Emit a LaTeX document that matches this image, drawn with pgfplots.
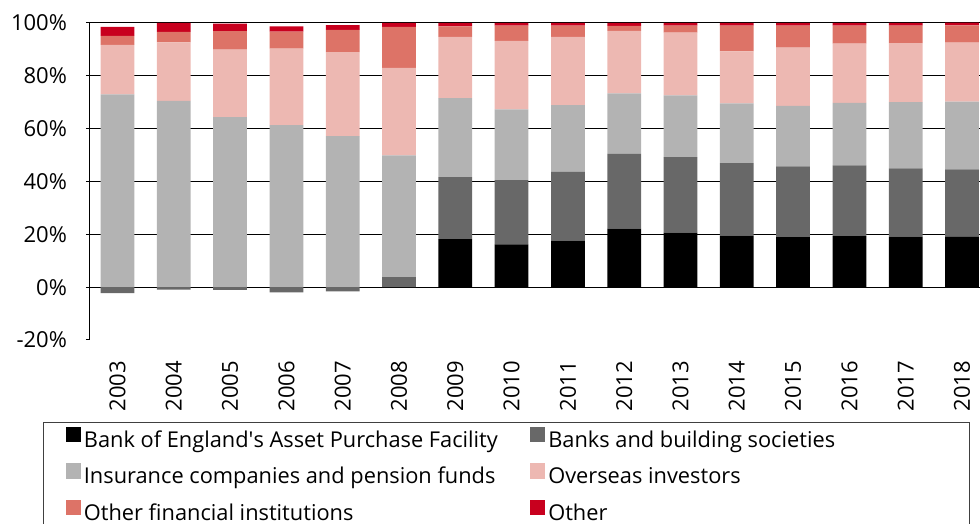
\documentclass[border=0pt]{standalone}
\usepackage{fontspec}
\setmainfont{Open Sans}
\usepackage{pgfplots}
\pgfplotsset{compat=1.18}
\usepackage{pgfplotstable}

\definecolor{boe}{RGB}{0,0,0}
\definecolor{banks}{RGB}{104,104,104}
\definecolor{insur}{RGB}{179,179,179}
\definecolor{overs}{RGB}{237,184,178}
\definecolor{ofi}{RGB}{221,115,103}
\definecolor{other}{RGB}{200,0,30}

% negb = negative part of banks' holdings (stacked separately below zero)
\pgfplotstableread{
x  negb boe  banks insur overs ofi  other
0  -2.3 0    0     73.0  18.7  3.4  3.4
1  -0.9 0    0     70.5  22.2  3.9  3.4
2  -1.0 0    0     64.4  25.5  7.0  2.9
3  -2.0 0    0     61.3  29.0  6.4  2.0
4  -1.6 0    0     57.2  31.8  8.4  1.8
5  0    0    3.8   46.1  33.1  15.5 1.5
6  0    18.2 23.5  29.9  23.1  4.0  1.3
7  0    16.2 24.3  26.8  25.9  5.8  1.0
8  0    17.6 26.0  25.3  25.8  4.3  1.0
9  0    22.2 28.3  22.9  23.6  1.9  1.1
10 0    20.6 28.6  23.4  23.8  2.6  1.0
11 0    19.5 27.5  22.6  19.7  9.7  1.0
12 0    18.9 26.8  22.9  22.1  8.3  1.0
13 0    19.3 26.8  23.7  22.4  6.8  1.0
14 0    19.1 25.9  25.0  22.4  6.6  1.0
15 0    19.0 25.6  25.6  22.4  6.5  1.0
}\holders

\begin{document}
\begin{tikzpicture}[font=\fontsize{11}{13}\selectfont]
\useasboundingbox (-45pt,-92pt) rectangle (445pt,170pt);
\begin{axis}[
  at={(0,0)}, anchor=south west,
  scale only axis, width=445pt, height=158.5pt,
  ybar stacked, bar width=0.6,
  xmin=-0.4886, xmax=15.32, ymin=-20, ymax=100,
  axis y line*=left, axis x line*=bottom,
  x axis line style={draw=none},
  y axis line style={black, line width=0.5pt},
  xtick={0,...,15},
  xticklabels={2003,2004,2005,2006,2007,2008,2009,2010,2011,2012,2013,2014,2015,2016,2017,2018},
  major x tick style={draw=none},
  xticklabel style={rotate=90, anchor=east},
  xticklabel shift=5pt,
  ytick={0,20,...,100},
  extra y ticks={-20},
  extra y tick style={grid=none},
  yticklabel={\pgfmathprintnumber{\tick}\%},
  /pgf/number format/assume math mode=true,
  tick align=outside, major tick length=2pt,
  major y tick style={black, line width=0.5pt},
  ymajorgrids, major grid style={black, line width=0.5pt},
  yticklabel shift=6pt,
  legend columns=2,
  legend style={at={(-0.0528,-0.2587)}, anchor=north west,
    draw=black!75, line width=0.5pt,
    font=\fontsize{10.9}{13}\selectfont,
    inner xsep=11pt, inner ysep=2pt, row sep=5.5pt, column sep=0pt,
    nodes={inner xsep=1.5pt, inner ysep=0pt, text height=8pt, text depth=2.5pt, anchor=west}},
  legend image code/.code={\fill[#1] (0pt,-0.3pt) rectangle (7.7pt,7.5pt);},
]
\addplot[fill=banks, draw=none, forget plot] table[x=x, y=negb] {\holders};
\addplot[fill=boe, draw=none] table[x=x, y=boe] {\holders};
\addlegendentry{\makebox[221.5pt][l]{Bank of England\textquotesingle s Asset Purchase Facility}}
\addplot[fill=banks, draw=none] table[x=x, y=banks] {\holders};
\addlegendentry{\makebox[198pt][l]{Banks and building societies}}
\addplot[fill=insur, draw=none] table[x=x, y=insur] {\holders};
\addlegendentry{Insurance companies and pension funds}
\addplot[fill=overs, draw=none] table[x=x, y=overs] {\holders};
\addlegendentry{Overseas investors}
\addplot[fill=ofi, draw=none] table[x=x, y=ofi] {\holders};
\addlegendentry{Other financial institutions}
\addplot[fill=other, draw=none] table[x=x, y=other] {\holders};
\addlegendentry{Other}
\end{axis}
\end{tikzpicture}
\end{document}
